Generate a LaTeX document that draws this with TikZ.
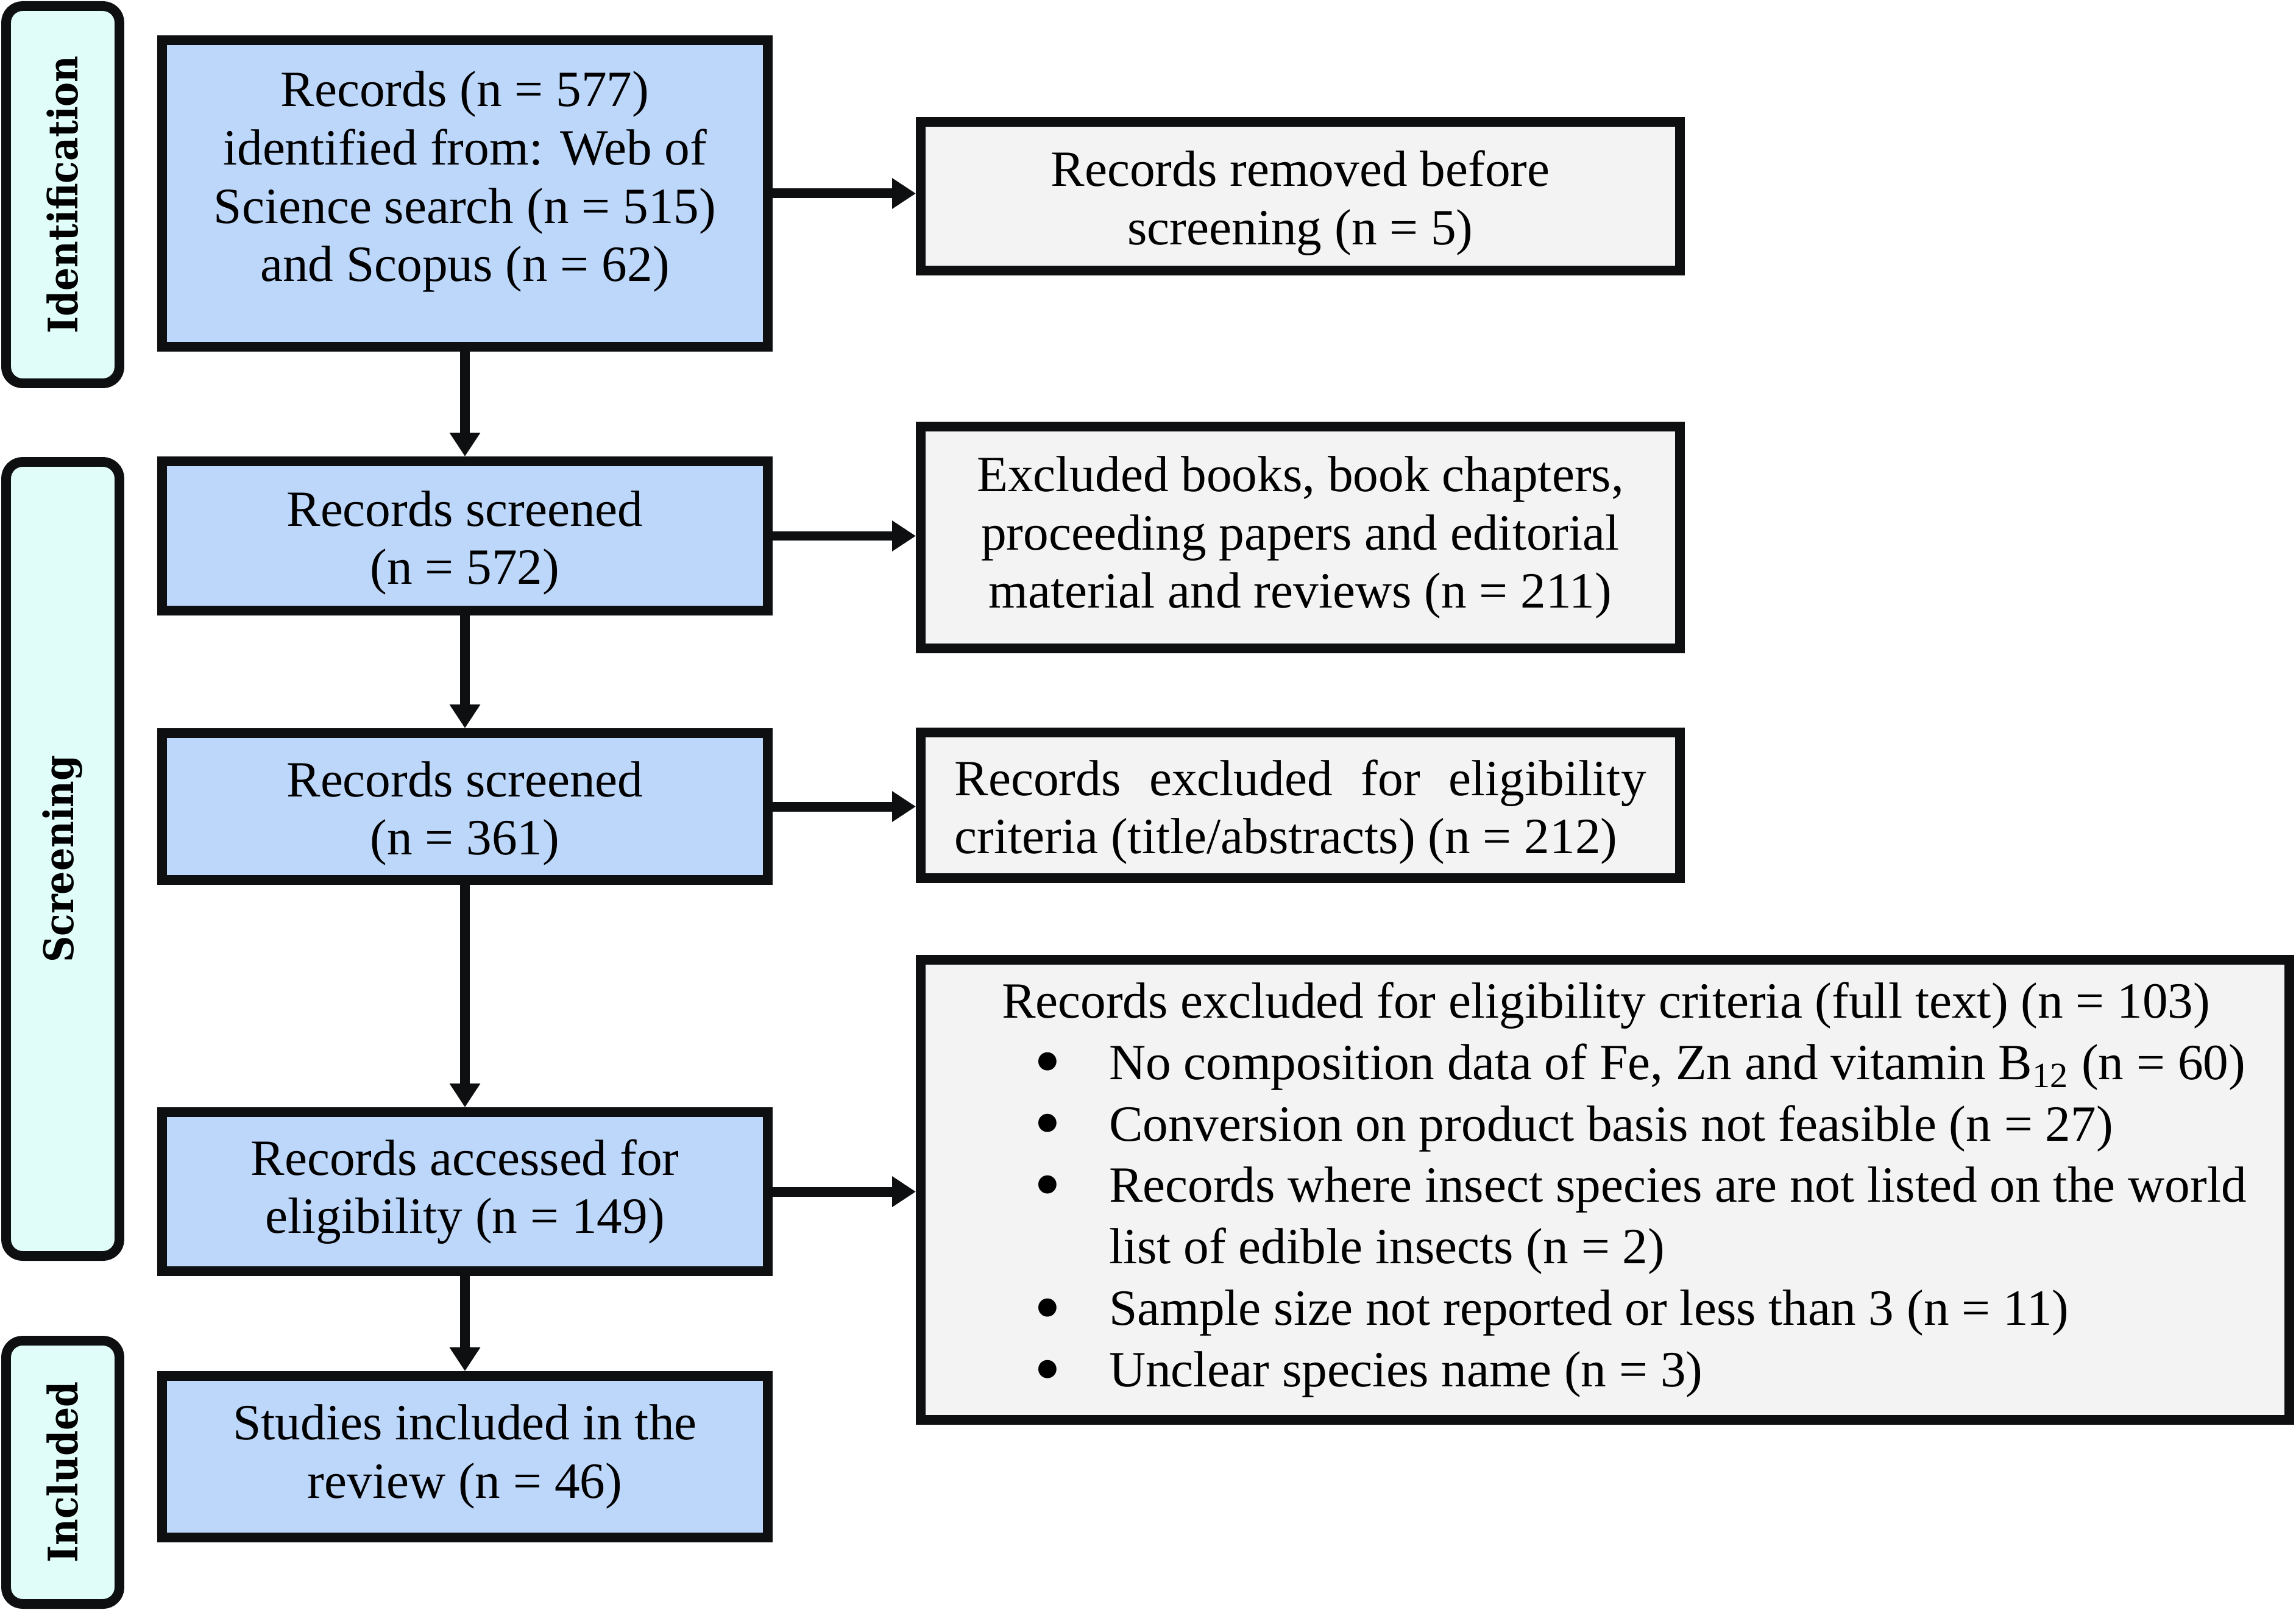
\documentclass[tikz,border=0pt]{standalone}
\usepackage{fontspec}
\usepackage{graphicx}
\setmainfont{Liberation Serif}
\IfFontExistsTF{DejaVu Serif Condensed}
  {\newfontfamily\stagefont{DejaVu Serif Condensed}}
  {\newfontfamily\stagefont[FakeStretch=0.9]{DejaVu Serif}}
\usetikzlibrary{arrows.meta}
\definecolor{ink}{HTML}{0E0F11}
\definecolor{boxblue}{HTML}{BDD7FB}
\definecolor{boxgrey}{HTML}{F2F3F2}
\definecolor{stagecyan}{HTML}{E0FDF9}
\def\stagecol{1.03}
\def\maincol{7.63}
\def\sidecol{21.34}
% invisible struts to nudge a text block down (top) or up (bottom)
\newcommand{\padtop}[1]{\rule{0pt}{#1}}
\newcommand{\padbot}[1]{\rule[-#1]{0pt}{#1}}

\begin{document}
\begin{tikzpicture}[line width=4.55pt, draw=ink, >={Triangle[length=3.9mm,width=4.8mm]}]
        \tikzstyle{box}=[rectangle, draw=ink, inner sep=0pt, align=center,
            font=\fontsize{23.7pt}{27.2pt}\selectfont]
        \tikzstyle{main box}=[box, fill=boxblue, minimum width=9.94cm]
        \tikzstyle{excl box}=[box, fill=boxgrey, minimum width=12.46cm]
        \tikzstyle{stage}=[box, fill=stagecyan, rounded corners=0.27cm, rotate=90,
            minimum height=1.86cm, font=\stagefont\bfseries\fontsize{19pt}{23pt}\selectfont]
        \tikzstyle{arrow}=[->, draw=ink]
        \newcommand{\bull}{\hspace*{0.53cm}\makebox[1.23cm][l]{\raisebox{-0.15em}{\scalebox{1.5}{\textbullet}}}}

        \useasboundingbox (0,0) rectangle (37.68,-26.42);

        % Draw the stage labels on the left
        \node[stage, minimum width=6.19cm] (S-1) at (\stagecol,-3.195) {Identification};
        \node[stage, minimum width=13.03cm] (S-2) at (\stagecol,-14.095) {Screening};
        \node[stage, minimum width=4.32cm] (S-3) at (\stagecol,-24.16) {Included};

        % Draw the main column
        \node[main box, minimum height=5.03cm] (B-1) at (\maincol,-3.175)
            {Records (n = 577)\\identified from: Web of\\Science search (n = 515)\\and Scopus (n = 62)\padbot{16pt}};
        \node[main box, minimum height=2.45cm] (B-2) at (\maincol,-8.795)
            {\padtop{23pt}Records screened\\(n = 572)};
        \node[main box, minimum height=2.41cm] (B-3) at (\maincol,-13.235)
            {\padtop{23pt}Records screened\\(n = 361)};
        \node[main box, minimum height=2.61cm] (B-4) at (\maincol,-19.555)
            {Records accessed for\\eligibility (n = 149)};
        \node[main box, minimum height=2.65cm] (B-5) at (\maincol,-23.905)
            {Studies included in the\\review (n = 46)};

        % Draw the exclusion boxes
        \node[excl box, minimum height=2.44cm] (R-1) at (\sidecol,-3.22)
            {\padtop{23pt}Records removed before\\screening (n = 5)};
        \node[excl box, minimum height=3.64cm] (R-2) at (\sidecol,-8.82)
            {Excluded books, book chapters,\\proceeding papers and editorial\\material and reviews (n = 211)};
        \node[excl box, minimum height=2.39cm, text width=11.35cm, align=justify] (R-3) at (\sidecol,-13.215)
            {\padtop{23pt}Records excluded for eligibility\linebreak criteria (title/abstracts) (n = 212)};
        \node[box, fill=boxgrey, minimum width=22.46cm, minimum height=7.55cm,
            text width=19.8cm, align=left, font=\fontsize{23.7pt}{28.7pt}\selectfont] (R-4) at (26.34,-19.525)
            {\spaceskip=0pt\xspaceskip=0pt
             \mbox{Records excluded for eligibility criteria (full text) (n = 103)}\\
             \bull\mbox{No composition data of Fe, Zn and vitamin B\textsubscript{12} (n = 60)}\\
             \bull\mbox{Conversion on product basis not feasible (n = 27)}\\
             \bull\mbox{Records where insect species are not listed on the world}\\
             \hspace*{1.76cm}\mbox{list of edible insects (n = 2)}\\
             \bull\mbox{Sample size not reported or less than 3 (n = 11)}\\
             \bull\mbox{Unclear species name (n = 3)}};

        % Connect the main column from top to bottom
        \foreach \source/\dest in {1/2,2/3,3/4,4/5}
        \draw[arrow] (B-\source) -- (B-\dest);

        % Connect every main box with its exclusion box
        \foreach \source in {1,...,4}
        \draw[arrow] (B-\source.east) -- (B-\source.east -| R-\source.west);
    \end{tikzpicture}
\end{document}
